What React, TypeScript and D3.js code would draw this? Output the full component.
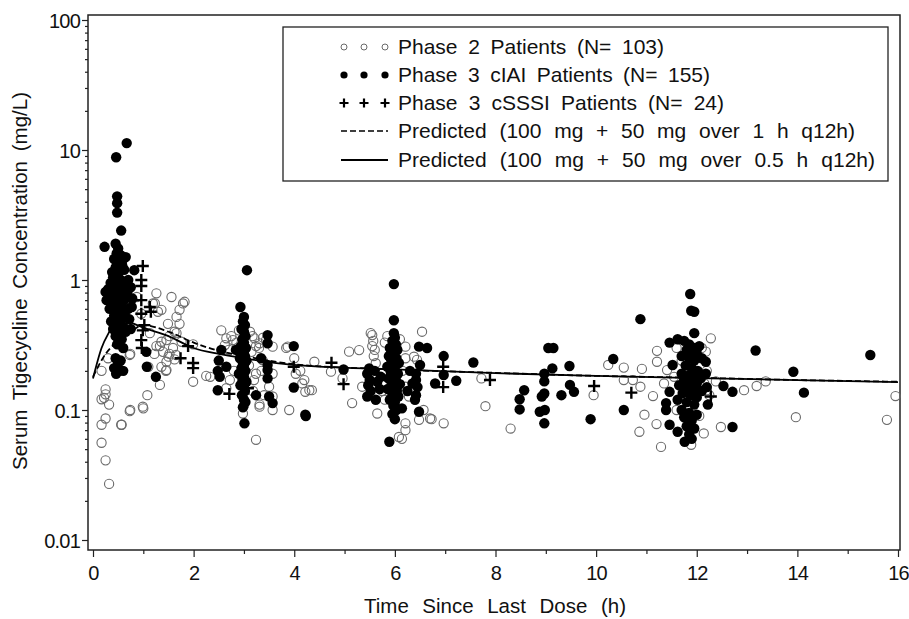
import React, { useEffect, useRef } from 'react';
import * as d3 from 'd3';

// time since last dose (h), concentration (mg/L)
const phase2Points: [number, number][] = [
  [0.17, 0.2], [0.25, 0.144], [0.25, 0.132], [0.17, 0.121], [0.22, 0.124], [0.32, 0.11], [0.25, 0.086],
  [0.17, 0.077], [0.17, 0.056], [0.25, 0.041], [0.32, 0.027], [0.57, 0.077], [0.73, 0.098], [1.0, 0.103],
  [1.08, 0.13], [0.73, 0.265], [0.3, 0.25], [0.74, 0.27], [1.33, 0.156], [1.46, 0.203], [1.62, 0.245],
  [1.56, 0.74], [1.79, 0.66], [1.72, 0.59], [1.66, 0.52], [1.72, 0.46], [1.49, 0.46], [1.26, 0.79],
  [1.23, 0.66], [1.29, 0.57], [1.13, 0.39], [1.33, 0.31], [1.52, 0.37], [1.66, 0.39], [1.76, 0.335],
  [1.99, 0.32], [1.99, 0.165], [2.25, 0.183], [2.33, 0.18], [0.87, 0.74], [1.52, 0.27], [1.46, 0.235],
  [1.36, 0.215], [1.1, 0.215], [1.36, 0.335], [1.26, 0.31], [1.36, 0.59], [1.62, 0.4], [1.46, 0.345],
  [1.59, 0.3], [1.39, 0.28], [1.5, 0.257], [1.19, 0.66], [0.96, 0.55], [1.22, 0.27], [1.45, 0.2],
  [1.65, 0.265], [0.99, 0.106], [0.74, 0.1], [0.56, 0.077], [1.82, 0.68],
  [2.55, 0.41], [2.65, 0.356], [2.62, 0.316], [2.9, 0.41], [3.21, 0.356], [3.24, 0.31], [3.37, 0.242],
  [3.24, 0.19], [3.5, 0.151], [3.31, 0.11], [3.57, 0.1], [2.98, 0.094], [3.24, 0.059], [3.84, 0.3],
  [4.0, 0.25], [4.03, 0.19], [4.16, 0.16], [4.22, 0.138], [2.65, 0.147], [2.7, 0.29], [2.75, 0.37],
  [2.85, 0.33], [3.15, 0.28], [3.3, 0.3], [3.1, 0.22], [3.2, 0.17], [3.35, 0.2], [2.8, 0.2], [2.72, 0.17],
  [3.38, 0.36], [3.12, 0.4], [3.18, 0.14], [3.4, 0.13], [3.0, 0.108], [3.9, 0.1], [4.3, 0.142],
  [4.4, 0.235], [4.73, 0.197], [4.96, 0.175], [3.87, 0.307], [4.12, 0.2], [4.2, 0.17], [2.78, 0.345],
  [3.17, 0.37], [3.31, 0.326], [3.44, 0.345], [3.57, 0.307], [3.57, 0.19], [3.57, 0.127], [3.31, 0.106],
  [5.52, 0.39], [5.55, 0.377], [5.57, 0.34], [5.55, 0.31], [5.6, 0.29], [5.58, 0.26], [5.62, 0.229],
  [5.09, 0.281], [5.29, 0.289], [4.35, 0.142], [5.15, 0.113], [5.65, 0.094], [6.21, 0.307], [6.54, 0.4],
  [6.21, 0.25], [6.38, 0.257], [6.44, 0.243], [6.21, 0.079], [6.21, 0.07], [6.08, 0.062], [6.14, 0.06],
  [6.48, 0.084], [6.57, 0.1], [6.7, 0.086], [6.97, 0.079], [6.73, 0.085], [5.8, 0.33], [5.85, 0.37],
  [6.1, 0.35], [6.15, 0.2], [6.21, 0.151], [6.28, 0.127], [5.75, 0.14], [5.8, 0.12], [5.35, 0.151],
  [7.72, 0.175], [7.8, 0.107], [8.3, 0.072], [9.95, 0.13], [10.24, 0.222], [10.55, 0.212], [10.55, 0.17],
  [10.73, 0.17], [10.91, 0.207], [10.88, 0.151], [11.21, 0.285], [11.21, 0.235], [11.13, 0.128],
  [10.96, 0.092], [11.2, 0.078], [10.86, 0.068], [11.29, 0.052],
  [12.28, 0.356], [12.18, 0.281], [11.89, 0.054], [12.14, 0.066], [12.48, 0.074], [12.38, 0.166],
  [12.94, 0.142], [13.19, 0.153], [13.37, 0.166], [11.41, 0.203], [11.35, 0.16], [12.15, 0.16],
  [12.2, 0.142], [13.97, 0.088], [15.78, 0.084], [15.95, 0.128], [11.6, 0.3], [11.7, 0.24], [12.1, 0.3],
  [12.2, 0.2], [11.55, 0.18], [12.25, 0.13], [11.6, 0.1], [12.05, 0.09],
];

const cIAIPoints: [number, number][] = [
  [0.67, 11.3], [0.46, 8.8], [0.48, 4.4], [0.48, 3.9], [0.48, 3.3], [0.56, 2.4], [0.23, 1.8],
  [0.45, 1.9], [0.5, 1.75], [0.47, 1.6], [0.55, 1.55], [0.42, 1.45], [0.6, 1.45], [0.5, 1.35], [0.45, 1.25],
  [0.58, 1.3], [0.65, 1.5], [0.38, 1.15], [0.52, 1.15], [0.62, 1.2], [0.82, 1.19], [0.4, 1.05], [0.55, 1.0],
  [0.7, 1.0], [0.35, 0.95], [0.48, 0.92], [0.6, 0.9], [0.75, 0.88], [0.3, 0.85], [0.42, 0.82], [0.55, 0.8],
  [0.68, 0.8], [0.25, 0.81], [0.32, 0.75], [0.5, 0.72], [0.62, 0.7], [0.78, 0.72], [0.27, 0.7], [0.38, 0.68],
  [0.45, 0.64], [0.58, 0.62], [0.77, 0.62], [0.7, 0.6], [0.33, 0.6], [0.5, 0.57], [0.63, 0.55], [0.42, 0.53],
  [0.55, 0.5], [0.72, 0.5], [0.36, 0.48], [0.48, 0.46], [0.6, 0.44], [0.4, 0.42], [0.52, 0.4], [0.65, 0.4],
  [0.45, 0.37], [0.57, 0.35], [0.75, 0.42], [0.48, 0.32], [0.6, 0.3], [0.45, 0.25], [0.5, 0.23], [0.55, 0.24],
  [0.42, 0.21], [0.52, 0.2], [0.46, 0.19], [0.6, 0.2], [1.06, 0.28], [1.07, 0.215], [1.25, 0.18],
  [3.06, 1.19], [2.93, 0.62], [3.0, 0.52], [2.98, 0.48], [3.02, 0.45], [2.95, 0.42], [3.0, 0.4], [3.03, 0.37],
  [2.97, 0.35], [3.0, 0.33], [2.94, 0.31], [3.04, 0.3], [3.0, 0.28], [2.96, 0.27], [3.02, 0.26], [2.92, 0.25],
  [3.05, 0.24], [2.98, 0.23], [3.0, 0.22], [2.95, 0.21], [3.03, 0.2], [2.9, 0.19], [3.0, 0.18], [2.97, 0.17],
  [3.05, 0.165], [2.93, 0.155], [3.0, 0.15], [3.02, 0.14], [2.96, 0.13], [3.0, 0.12], [3.03, 0.115],
  [2.98, 0.105], [3.01, 0.079], [2.55, 0.29], [2.5, 0.24], [2.48, 0.2], [2.52, 0.18], [2.48, 0.142],
  [2.65, 0.215], [2.84, 0.29], [3.47, 0.377], [3.47, 0.326], [3.47, 0.222], [3.47, 0.203], [3.47, 0.175],
  [3.5, 0.127], [3.57, 0.113], [3.24, 0.13], [3.34, 0.25], [3.99, 0.31], [3.99, 0.149], [4.22, 0.092],
  [4.23, 0.09], [4.98, 0.205],
  [5.98, 0.93], [5.98, 0.49], [5.98, 0.39], [6.0, 0.36], [5.95, 0.34], [6.02, 0.32], [5.9, 0.3], [6.05, 0.29],
  [5.97, 0.27], [5.88, 0.26], [6.03, 0.25], [5.93, 0.24], [6.08, 0.23], [5.98, 0.22], [5.85, 0.215],
  [6.0, 0.205], [5.92, 0.195], [6.06, 0.19], [5.97, 0.18], [5.87, 0.175], [6.02, 0.17], [5.94, 0.16],
  [6.1, 0.158], [5.99, 0.15], [5.86, 0.145], [6.04, 0.14], [5.95, 0.133], [6.07, 0.127], [5.9, 0.12],
  [6.0, 0.115], [5.97, 0.108], [6.03, 0.1], [5.95, 0.093], [6.0, 0.085], [5.89, 0.057],
  [5.49, 0.209], [5.45, 0.19], [5.5, 0.17], [5.47, 0.155], [5.52, 0.14], [5.45, 0.127], [5.6, 0.2],
  [5.65, 0.165], [5.7, 0.145], [5.62, 0.12], [5.72, 0.18], [6.48, 0.307], [6.64, 0.3], [6.5, 0.222],
  [6.42, 0.19], [6.42, 0.17], [6.45, 0.15], [6.42, 0.13], [6.4, 0.12], [6.48, 0.097], [6.14, 0.103],
  [6.3, 0.2], [6.35, 0.16], [6.25, 0.14], [6.97, 0.26], [6.97, 0.186], [6.8, 0.16], [7.22, 0.168],
  [7.56, 0.232], [9.05, 0.3], [9.15, 0.3], [9.13, 0.209], [8.97, 0.19], [8.97, 0.166], [8.97, 0.134],
  [8.92, 0.127], [8.98, 0.1], [8.88, 0.097], [8.97, 0.079], [8.57, 0.142], [8.48, 0.121], [8.48, 0.101],
  [9.31, 0.13], [9.47, 0.218], [9.48, 0.156], [9.56, 0.138], [9.89, 0.085], [10.34, 0.247], [10.55, 0.1],
  [10.88, 0.5],
  [11.87, 0.78], [11.89, 0.58], [11.95, 0.57], [11.95, 0.39], [11.62, 0.35], [11.46, 0.33], [11.75, 0.34],
  [11.85, 0.32], [11.95, 0.3], [12.05, 0.31], [11.8, 0.29], [11.9, 0.28], [12.0, 0.27], [11.7, 0.26],
  [11.85, 0.25], [12.1, 0.25], [11.95, 0.24], [12.18, 0.235], [11.52, 0.222], [11.78, 0.22], [11.9, 0.21],
  [12.02, 0.2], [11.7, 0.19], [11.85, 0.185], [11.96, 0.18], [12.08, 0.175], [11.75, 0.17], [11.9, 0.165],
  [12.0, 0.16], [11.65, 0.155], [11.82, 0.15], [11.94, 0.145], [12.1, 0.14], [11.46, 0.138], [11.72, 0.135],
  [11.88, 0.13], [12.0, 0.125], [11.62, 0.12], [11.8, 0.115], [11.95, 0.11], [12.22, 0.11], [11.39, 0.113],
  [11.39, 0.1], [11.7, 0.1], [11.85, 0.095], [12.0, 0.092], [11.75, 0.088], [11.9, 0.083], [11.46, 0.077],
  [11.8, 0.075], [11.95, 0.072], [11.62, 0.068], [11.85, 0.065], [11.76, 0.057], [11.9, 0.06],
  [12.18, 0.19], [12.2, 0.15], [12.53, 0.153], [12.71, 0.138], [12.71, 0.074], [13.17, 0.287],
  [13.92, 0.197], [14.13, 0.136], [15.45, 0.265],
];

const cSSSIPoints: [number, number][] = [
  [0.99, 1.28], [0.96, 1.0], [0.96, 0.9], [0.96, 0.7], [1.13, 0.62], [1.15, 0.57], [0.96, 0.55],
  [1.02, 0.45], [0.99, 0.41], [0.96, 0.345], [0.97, 0.3], [1.89, 0.31], [1.74, 0.25], [1.99, 0.23],
  [1.99, 0.21], [2.71, 0.133], [3.08, 0.147], [3.99, 0.215], [4.74, 0.231], [4.98, 0.158], [6.96, 0.215],
  [6.96, 0.15], [7.89, 0.17], [9.96, 0.153], [10.7, 0.136], [12.28, 0.127],
];

// predicted profiles
const predicted1h: [number, number][] = [
  [0, 0.18], [0.25, 0.27], [0.5, 0.34], [0.75, 0.4], [1.0, 0.45], [1.5, 0.4], [2, 0.33], [2.5, 0.285],
  [3, 0.26], [4, 0.225], [6, 0.205], [8, 0.193], [10, 0.183], [12, 0.177], [14, 0.17], [16, 0.165],
];
const predicted05h: [number, number][] = [
  [0, 0.175], [0.17, 0.3], [0.34, 0.41], [0.5, 0.52], [0.7, 0.48], [1.0, 0.43], [1.5, 0.37], [2, 0.3],
  [2.5, 0.27], [3, 0.25], [4, 0.222], [6, 0.205], [8, 0.192], [10, 0.183], [12, 0.176], [14, 0.17], [16, 0.164],
];

const legendLabels = [
  'Phase 2 Patients (N= 103)',
  'Phase 3 cIAI Patients (N= 155)',
  'Phase 3 cSSSI Patients (N= 24)',
  'Predicted (100 mg + 50 mg over 1 h q12h)',
  'Predicted (100 mg + 50 mg over 0.5 h q12h)',
];
const legendWidths = [266, 312, 326, 457, 477];

const yTickValues = [0.01, 0.1, 1, 10, 100];
const yTickLabels = ['0.01', '0.1', '1', '10', '100'];
const xTickValues = [0, 2, 4, 6, 8, 10, 12, 14, 16];

const FONT = '"Liberation Sans", Arial, sans-serif';

// stretch or squeeze the gaps between words so a text has the target width
const fitWords = (sel: any, width: number) => {
  const node = sel.node() as SVGTextElement;
  const natural = node.getComputedTextLength();
  const spaces = (node.textContent || '').split(' ').length - 1;
  if (spaces > 0) sel.attr('word-spacing', (width - natural) / spaces);
};

const App = () => {
  const ref = useRef<SVGSVGElement>(null);

  useEffect(() => {
    const svg = d3.select(ref.current);
    svg.selectAll('*').remove();

    const frame = { left: 88, top: 15, right: 900, bottom: 550 };
    const x = d3.scaleLinear().domain([0, 16]).range([93, 898]);
    const y = d3.scaleLog().domain([0.01, 100]).range([540, 20]);

    // frame
    svg.append('rect')
      .attr('x', frame.left).attr('y', frame.top)
      .attr('width', frame.right - frame.left).attr('height', frame.bottom - frame.top)
      .attr('fill', 'none').attr('stroke', '#222').attr('stroke-width', 1.5);

    // y axis
    const yMinor: number[] = [];
    [0.01, 0.1, 1, 10].forEach(d => { for (let k = 2; k <= 9; k++) yMinor.push(d * k); });
    const yAxis = svg.append('g').attr('transform', `translate(${frame.left},0)`);
    yAxis.call(d3.axisLeft(y).tickValues(yMinor).tickSize(3).tickFormat(() => ''));
    yAxis.append('g').call(d3.axisLeft(y).tickValues(yTickValues).tickSize(6)
      .tickFormat((d, i) => yTickLabels[i]));
    yAxis.selectAll('.domain').remove();
    yAxis.selectAll('line').attr('stroke', '#222').attr('stroke-width', 1.2);
    yAxis.selectAll('text').attr('font-family', FONT).attr('font-size', 20).attr('fill', '#111')
      .attr('x', -8).attr('dy', '0.35em').attr('letter-spacing', -0.8);

    // x axis
    const xAxis = svg.append('g').attr('transform', `translate(0,${frame.bottom})`);
    xAxis.call(d3.axisBottom(x).tickValues([1, 3, 5, 7, 9, 11, 13, 15]).tickSize(4).tickFormat(() => ''));
    xAxis.append('g').call(d3.axisBottom(x).tickValues(xTickValues).tickSize(7).tickFormat(d3.format('d')));
    xAxis.selectAll('.domain').remove();
    xAxis.selectAll('line').attr('stroke', '#222').attr('stroke-width', 1.2);
    xAxis.selectAll('text').attr('font-family', FONT).attr('font-size', 20).attr('fill', '#111')
      .attr('y', 16).attr('letter-spacing', -0.8);

    // titles
    const xt = svg.append('text')
      .attr('x', 495).attr('y', 613).attr('text-anchor', 'middle')
      .attr('font-family', FONT).attr('font-size', 20.5).attr('fill', '#111')
      .text('Time Since Last Dose (h)');
    fitWords(xt, 262);
    const yt = svg.append('text')
      .attr('transform', 'translate(27,281) rotate(-90)').attr('text-anchor', 'middle')
      .attr('font-family', FONT).attr('font-size', 20.5).attr('fill', '#111')
      .text('Serum Tigecycline Concentration (mg/L)');
    fitWords(yt, 378);

    const plot = svg.append('g');

    // phase 2 open circles
    plot.append('g').selectAll('circle').data(phase2Points).enter().append('circle')
      .attr('cx', d => x(d[0])).attr('cy', d => y(d[1])).attr('r', 4.6)
      .attr('fill', 'none').attr('stroke', '#6a6a6a').attr('stroke-width', 1.1);

    // phase 3 cIAI filled circles
    plot.append('g').selectAll('circle').data(cIAIPoints).enter().append('circle')
      .attr('cx', d => x(d[0])).attr('cy', d => y(d[1])).attr('r', 5.2)
      .attr('fill', '#000');

    // predicted curves
    const line = d3.line<[number, number]>().x(d => x(d[0])).y(d => y(d[1])).curve(d3.curveMonotoneX);
    plot.append('path').attr('d', line(predicted1h)).attr('fill', 'none')
      .attr('stroke', '#000').attr('stroke-width', 1.8).attr('stroke-dasharray', '6,3');
    plot.append('path').attr('d', line(predicted05h)).attr('fill', 'none')
      .attr('stroke', '#000').attr('stroke-width', 1.8);

    // phase 3 cSSSI plus signs
    plot.append('g').selectAll('path').data(cSSSIPoints).enter().append('path')
      .attr('d', d => {
        const cx = x(d[0]), cy = y(d[1]);
        return `M${cx - 6},${cy}H${cx + 6}M${cx},${cy - 6}V${cy + 6}`;
      })
      .attr('stroke', '#000').attr('stroke-width', 2.4).attr('fill', 'none');

    // legend
    const lg = svg.append('g');
    lg.append('rect').attr('x', 283).attr('y', 27).attr('width', 605).attr('height', 154)
      .attr('fill', '#fff').attr('stroke', '#222').attr('stroke-width', 1.3);
    const rowY = [47, 75, 103, 131, 160];
    const symX = [344, 364, 385];
    symX.forEach(sx => {
      lg.append('circle').attr('cx', sx).attr('cy', rowY[0]).attr('r', 3)
        .attr('fill', 'none').attr('stroke', '#6a6a6a').attr('stroke-width', 1);
      lg.append('circle').attr('cx', sx).attr('cy', rowY[1]).attr('r', 3.6).attr('fill', '#000');
      lg.append('path').attr('d', `M${sx - 4.5},${rowY[2]}H${sx + 4.5}M${sx},${rowY[2] - 4.5}V${rowY[2] + 4.5}`)
        .attr('stroke', '#000').attr('stroke-width', 2.2);
    });
    lg.append('line').attr('x1', 341).attr('x2', 388).attr('y1', rowY[3]).attr('y2', rowY[3])
      .attr('stroke', '#000').attr('stroke-width', 1.6).attr('stroke-dasharray', '6,3');
    lg.append('line').attr('x1', 341).attr('x2', 388).attr('y1', rowY[4]).attr('y2', rowY[4])
      .attr('stroke', '#000').attr('stroke-width', 1.8);
    legendLabels.forEach((label, i) => {
      const t = lg.append('text')
        .attr('x', 398).attr('y', rowY[i]).attr('dy', '0.35em')
        .attr('font-family', FONT).attr('font-size', 21).attr('fill', '#111')
        .text(label);
      fitWords(t, legendWidths[i]);
    });
  }, []);

  return (
    <svg ref={ref} width={909} height={619}
      style={{ position: 'absolute', left: 0, top: 0, background: '#fff' }} />
  );
};

export default App;
